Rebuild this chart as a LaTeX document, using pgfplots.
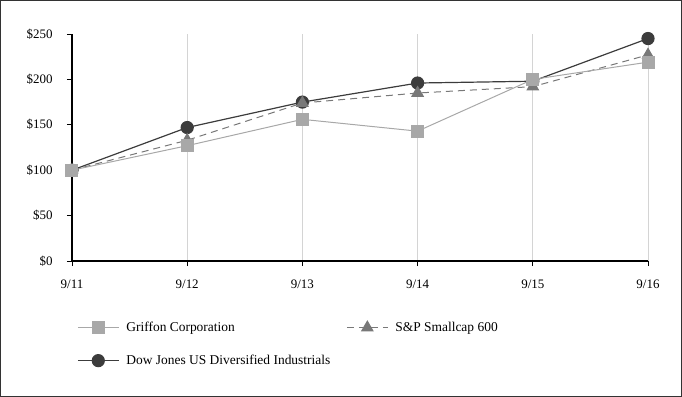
\documentclass[border=0pt]{standalone}
\usepackage{pgfplots}
\pgfplotsset{compat=1.18}
\usepackage{fontspec}
\setmainfont{Liberation Serif}
\definecolor{griff}{RGB}{168,168,168}
\definecolor{snp}{RGB}{120,120,120}
\definecolor{dow}{RGB}{60,60,60}
\definecolor{gridc}{RGB}{212,212,212}
\begin{document}
\begin{tikzpicture}
\useasboundingbox (-72bp,-136bp) rectangle (610bp,261bp);
\begin{axis}[
  scale only axis, width=576bp, height=227bp,
  xmin=0, xmax=5, ymin=0, ymax=250,
  axis x line*=bottom, axis y line*=left,
  axis line style={line width=1.3bp, black},
  xtick={0,1,2,3,4,5},
  xticklabels={9/11,9/12,9/13,9/14,9/15,9/16},
  ytick={0,50,100,150,200,250},
  yticklabel={\$\pgfmathprintnumber{\tick}},
  /pgf/number format/assume math mode=true,
  tick style={black, line width=0.8bp},
  tick align=outside, major tick length=5bp,
  xmajorgrids, major grid style={gridc, line width=0.8bp},
  ticklabel style={font=\fontsize{13}{15}\selectfont},
  xticklabel style={yshift=-10bp},
  yticklabel style={xshift=-11bp},
  clip=false,
  legend columns=2,
  legend cell align=left,
  reverse legend,
  legend style={draw=none, fill=none, at={(0,0)}, anchor=north west,
    xshift=2bp, yshift=-55bp, font=\fontsize{13.5}{15}\selectfont,
    nodes={inner sep=4bp},
    /tikz/every odd column/.append style={column sep=3bp},
    /tikz/every even column/.append style={column sep=12bp},
    row sep=14bp},
  legend image code/.code={\draw[mark repeat=2,mark phase=2] plot coordinates {(0bp,0bp) (20.5bp,0bp) (41bp,0bp)};},
]
\addplot[dow, line width=1.2bp, mark=*, mark size=6bp, mark options={solid, fill=dow, draw=dow}]
  coordinates {(0,100) (1,147) (2,175) (3,196) (4,198) (5,245)};
\addlegendentry{Dow Jones US Diversified Industrials}
\addplot[snp, line width=1bp, dash pattern=on 7bp off 5bp, mark=triangle*, mark size=6.5bp, mark options={solid, fill=snp, draw=snp}]
  coordinates {(0,100) (1,133) (2,174) (3,185) (4,192) (5,227)};
\addlegendentry{S\&P Smallcap 600}
\addplot[griff, line width=1bp, mark=square*, mark size=6bp, mark options={solid, fill=griff, draw=griff}]
  coordinates {(0,100) (1,127) (2,156) (3,143) (4,200) (5,219)};
\addlegendentry{Griffon Corporation}
\end{axis}
\draw[line width=1.5bp, black!80] (-71.25bp,-135.25bp) rectangle (609.25bp,260.25bp);
\end{tikzpicture}
\end{document}
